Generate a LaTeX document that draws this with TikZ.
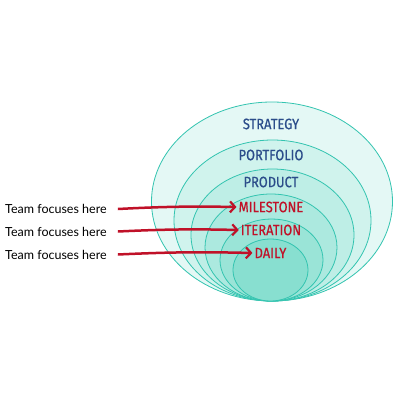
\documentclass[tikz,border=0pt]{standalone}
\usepackage{fontspec}
\setmainfont{Lato}
\newfontfamily\lblfont[FakeStretch=0.86,FakeBold=0.6]{Fira Sans}
\usetikzlibrary{arrows.meta}
\definecolor{ringline}{HTML}{33C4B0}
\definecolor{c1}{HTML}{E4F8F5}
\definecolor{c2}{HTML}{D0F3ED}
\definecolor{c3}{HTML}{BEEEE6}
\definecolor{c4}{HTML}{ACE9DF}
\definecolor{c5}{HTML}{9AE4D7}
\definecolor{c6}{HTML}{88DFD0}
\definecolor{lblblue}{HTML}{2B4D8A}
\definecolor{lblred}{HTML}{C01128}
\tikzset{
  ring/.style={draw=ringline, line width=0.8pt},
  bluelbl/.style={font=\lblfont\fontsize{15}{16}\selectfont, text=lblblue, inner sep=2pt},
  redlbl/.style={font=\lblfont\fontsize{15}{16}\selectfont, text=lblred, inner sep=2pt},
  teamlbl/.style={font=\fontsize{12.5}{14}\selectfont, text=black, anchor=west, inner sep=0pt},
  focusarrow/.style={draw=lblred, line width=2.5pt, -{Straight Barb[length=5pt,width=11pt,line width=2.2pt]}}
}
\begin{document}
\begin{tikzpicture}[x=1pt,y=-1pt]
\useasboundingbox (0,0) rectangle (400,400);
\fill[white] (0,0) rectangle (400,400);
\draw[ring, fill=c1] (272,201.5) ellipse [x radius=120.5pt, y radius=99.5pt];
\draw[ring, fill=c2] (272.5,220.5) ellipse [x radius=98.5pt, y radius=80.5pt];
\draw[ring, fill=c3] (272.5,235) ellipse [x radius=81.5pt, y radius=66pt];
\draw[ring, fill=c4] (271,247.5) ellipse [x radius=66pt, y radius=53.5pt];
\draw[ring, fill=c5] (271.5,260) ellipse [x radius=51.5pt, y radius=41pt];
\draw[ring, fill=c6] (270.5,270) ellipse [x radius=37.5pt, y radius=31pt];
\node[bluelbl] (strategy) at (271,124) {STRATEGY};
\node[bluelbl] (portfolio) at (271,155) {PORTFOLIO};
\node[bluelbl] (product) at (271,182) {PRODUCT};
\node[redlbl] (milestone) at (271,207) {MILESTONE};
\node[redlbl] (iteration) at (271,230) {ITERATION};
\node[redlbl] (daily) at (270.5,253) {DAILY};
\node[teamlbl] (t1) at (5,209) {Team focuses here};
\node[teamlbl] (t2) at (5,231.5) {Team focuses here};
\node[teamlbl] (t3) at (5,254.5) {Team focuses here};
\draw[focusarrow] ([xshift=11pt]t1.east) to[bend left=2] (milestone.west);
\draw[focusarrow] ([xshift=11pt]t2.east) to[bend left=2] (iteration.west);
\draw[focusarrow] ([xshift=11pt]t3.east) to[bend left=2] (daily.west);
\end{tikzpicture}
\end{document}
